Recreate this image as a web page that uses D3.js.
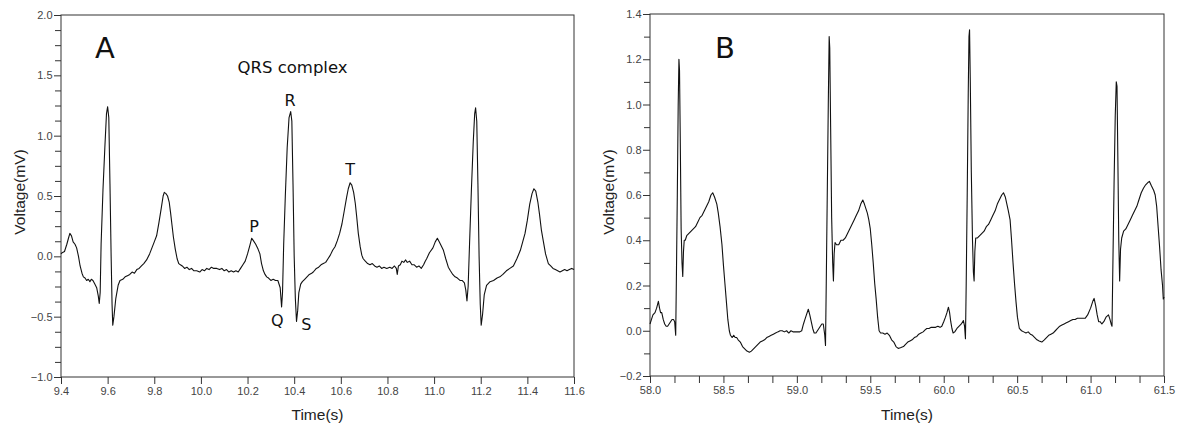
<!DOCTYPE html>
<html>
<head>
<meta charset="utf-8">
<script src="https://cdn.jsdelivr.net/npm/d3@7"></script>
<style>
  html, body { margin: 0; padding: 0; background: #fff; }
  svg { display: block; }
  .tick text { font-family: "Liberation Sans", Arial, sans-serif; font-size: 11px; fill: #444; }
  .tick line { stroke: #333; }
</style>
</head>
<body>
<svg id="chart" width="1200" height="436"></svg>
<script>
// ---------- Panel A data (time s, voltage mV) ----------
const timeA = [9.400,9.405,9.415,9.425,9.432,9.438,9.445,9.452,9.460,9.467,9.475,9.482,9.490,9.496,9.503,9.510,9.517,9.524,9.530,9.537,9.545,9.553,9.560,9.564,9.568,9.572,9.580,9.588,9.595,9.600,9.605,9.610,9.615,9.619,9.622,9.627,9.635,9.645,9.653,9.665,9.675,9.685,9.695,9.705,9.715,9.725,9.735,9.745,9.755,9.767,9.780,9.790,9.800,9.810,9.820,9.830,9.838,9.843,9.850,9.857,9.864,9.870,9.876,9.882,9.890,9.898,9.905,9.912,9.920,9.930,9.940,9.950,9.960,9.970,9.982,9.995,10.005,10.015,10.025,10.035,10.045,10.055,10.068,10.080,10.090,10.100,10.110,10.120,10.130,10.140,10.150,10.160,10.170,10.180,10.190,10.200,10.210,10.218,10.225,10.235,10.245,10.253,10.260,10.268,10.275,10.282,10.290,10.300,10.310,10.320,10.330,10.340,10.346,10.350,10.355,10.362,10.370,10.378,10.385,10.390,10.395,10.400,10.405,10.410,10.415,10.420,10.428,10.435,10.445,10.455,10.465,10.475,10.482,10.495,10.505,10.515,10.525,10.535,10.545,10.555,10.565,10.575,10.585,10.595,10.605,10.615,10.625,10.632,10.640,10.647,10.655,10.662,10.668,10.675,10.683,10.690,10.696,10.705,10.715,10.725,10.735,10.745,10.755,10.765,10.775,10.785,10.797,10.810,10.820,10.830,10.838,10.842,10.847,10.855,10.862,10.870,10.878,10.885,10.895,10.905,10.915,10.925,10.935,10.945,10.955,10.962,10.968,10.980,10.995,11.005,11.014,11.022,11.030,11.040,11.050,11.061,11.070,11.080,11.090,11.100,11.111,11.120,11.130,11.136,11.141,11.146,11.152,11.160,11.168,11.174,11.178,11.183,11.188,11.193,11.198,11.202,11.208,11.215,11.225,11.240,11.255,11.270,11.282,11.295,11.310,11.325,11.340,11.355,11.370,11.380,11.390,11.400,11.410,11.420,11.428,11.436,11.445,11.452,11.460,11.468,11.478,11.490,11.500,11.510,11.520,11.530,11.540,11.550,11.560,11.570,11.580,11.590,11.600];
const voltA = [0.02,0.03,0.04,0.10,0.15,0.19,0.17,0.12,0.10,0.07,0.00,-0.08,-0.14,-0.17,-0.18,-0.20,-0.19,-0.21,-0.19,-0.20,-0.23,-0.26,-0.33,-0.39,-0.30,0.10,0.55,0.90,1.18,1.24,1.15,0.60,0.00,-0.40,-0.57,-0.50,-0.35,-0.24,-0.20,-0.19,-0.17,-0.16,-0.15,-0.13,-0.14,-0.11,-0.10,-0.08,-0.06,-0.03,0.02,0.07,0.12,0.17,0.28,0.40,0.50,0.53,0.52,0.50,0.45,0.36,0.26,0.16,0.06,-0.02,-0.06,-0.07,-0.08,-0.10,-0.09,-0.11,-0.10,-0.12,-0.12,-0.13,-0.11,-0.12,-0.10,-0.11,-0.09,-0.10,-0.10,-0.11,-0.10,-0.12,-0.11,-0.13,-0.12,-0.13,-0.12,-0.13,-0.10,-0.07,-0.04,0.02,0.09,0.15,0.13,0.10,0.06,0.02,-0.06,-0.12,-0.15,-0.17,-0.18,-0.20,-0.19,-0.20,-0.20,-0.26,-0.42,-0.30,0.10,0.50,0.90,1.15,1.20,1.12,0.60,0.00,-0.35,-0.54,-0.45,-0.30,-0.23,-0.21,-0.19,-0.17,-0.15,-0.14,-0.13,-0.10,-0.09,-0.07,-0.06,-0.05,-0.02,0.01,0.05,0.08,0.13,0.19,0.27,0.38,0.49,0.56,0.61,0.59,0.53,0.44,0.33,0.19,0.08,0.01,-0.02,-0.04,-0.06,-0.07,-0.06,-0.08,-0.09,-0.08,-0.10,-0.09,-0.10,-0.09,-0.10,-0.08,-0.10,-0.15,-0.08,-0.07,-0.04,-0.05,-0.03,-0.05,-0.04,-0.07,-0.07,-0.09,-0.08,-0.10,-0.07,-0.04,-0.02,0.03,0.07,0.12,0.15,0.12,0.09,0.05,-0.02,-0.09,-0.12,-0.15,-0.17,-0.18,-0.20,-0.20,-0.22,-0.28,-0.37,-0.25,0.10,0.55,0.95,1.18,1.23,1.12,0.60,0.00,-0.40,-0.57,-0.48,-0.32,-0.24,-0.21,-0.20,-0.18,-0.17,-0.15,-0.12,-0.10,-0.08,-0.02,0.05,0.12,0.19,0.30,0.43,0.52,0.56,0.54,0.45,0.35,0.22,0.13,0.02,-0.06,-0.08,-0.10,-0.11,-0.12,-0.13,-0.12,-0.11,-0.12,-0.11,-0.10,-0.11];

// ---------- Panel B data ----------
const timeB = [58.000,58.010,58.020,58.034,58.045,58.057,58.065,58.072,58.080,58.090,58.100,58.110,58.120,58.130,58.140,58.150,58.160,58.168,58.175,58.180,58.186,58.192,58.197,58.201,58.206,58.212,58.218,58.223,58.228,58.233,58.240,58.250,58.265,58.280,58.295,58.310,58.325,58.340,58.355,58.370,58.385,58.400,58.415,58.427,58.440,58.455,58.465,58.477,58.490,58.500,58.510,58.520,58.530,58.540,58.548,58.560,58.570,58.580,58.590,58.600,58.615,58.630,58.645,58.660,58.677,58.690,58.705,58.720,58.735,58.750,58.765,58.780,58.795,58.810,58.825,58.840,58.855,58.870,58.886,58.900,58.915,58.930,58.945,58.960,58.976,58.990,59.005,59.020,59.033,59.045,59.055,59.065,59.078,59.088,59.098,59.108,59.118,59.130,59.140,59.150,59.160,59.170,59.180,59.190,59.195,59.200,59.207,59.214,59.220,59.224,59.230,59.237,59.244,59.249,59.254,59.260,59.270,59.285,59.300,59.315,59.330,59.345,59.360,59.375,59.390,59.405,59.420,59.435,59.449,59.460,59.470,59.480,59.490,59.500,59.510,59.520,59.530,59.540,59.550,59.560,59.570,59.585,59.600,59.615,59.630,59.645,59.660,59.675,59.690,59.705,59.726,59.740,59.755,59.770,59.785,59.800,59.817,59.830,59.845,59.860,59.875,59.885,59.900,59.915,59.930,59.945,59.960,59.975,59.987,60.000,60.012,60.022,60.032,60.040,60.048,60.056,60.064,60.075,60.090,60.105,60.120,60.134,60.142,60.148,60.153,60.160,60.167,60.172,60.176,60.181,60.188,60.196,60.202,60.207,60.212,60.218,60.230,60.245,60.260,60.275,60.290,60.305,60.320,60.335,60.350,60.365,60.380,60.395,60.407,60.420,60.430,60.440,60.452,60.462,60.472,60.482,60.492,60.502,60.515,60.530,60.545,60.560,60.575,60.590,60.605,60.620,60.635,60.650,60.668,60.685,60.700,60.715,60.730,60.745,60.760,60.775,60.790,60.805,60.820,60.835,60.850,60.865,60.880,60.895,60.910,60.925,60.940,60.955,60.963,60.980,61.000,61.015,61.024,61.035,61.045,61.055,61.065,61.077,61.090,61.105,61.122,61.132,61.140,61.146,61.151,61.160,61.168,61.175,61.180,61.186,61.192,61.198,61.204,61.212,61.225,61.240,61.255,61.270,61.285,61.300,61.315,61.330,61.345,61.360,61.375,61.390,61.401,61.415,61.430,61.440,61.450,61.460,61.470,61.480,61.490,61.495,61.500];
const voltB = [0.03,0.05,0.07,0.08,0.10,0.13,0.10,0.08,0.08,0.05,0.03,0.02,0.02,0.03,0.04,0.05,0.05,0.04,-0.02,0.25,0.60,1.00,1.20,1.15,0.85,0.45,0.30,0.24,0.35,0.40,0.40,0.42,0.43,0.44,0.45,0.46,0.48,0.50,0.51,0.53,0.55,0.57,0.60,0.61,0.59,0.56,0.52,0.46,0.38,0.29,0.21,0.13,0.05,0.00,-0.02,-0.03,-0.02,-0.03,-0.03,-0.04,-0.05,-0.07,-0.08,-0.09,-0.095,-0.09,-0.08,-0.07,-0.06,-0.05,-0.045,-0.04,-0.03,-0.025,-0.02,-0.015,-0.01,-0.005,0.00,0.00,-0.005,0.00,-0.01,0.00,-0.005,-0.005,-0.005,-0.005,0.00,0.03,0.05,0.07,0.095,0.07,0.04,0.01,-0.01,-0.01,0.00,0.01,0.02,0.03,0.03,-0.02,-0.065,0.20,0.60,1.00,1.30,1.25,0.90,0.50,0.30,0.22,0.34,0.39,0.38,0.38,0.40,0.40,0.41,0.43,0.45,0.47,0.49,0.51,0.53,0.56,0.578,0.56,0.54,0.52,0.49,0.45,0.38,0.30,0.21,0.14,0.06,0.00,-0.01,-0.01,-0.015,-0.01,-0.02,-0.04,-0.05,-0.07,-0.078,-0.075,-0.07,-0.06,-0.05,-0.045,-0.04,-0.03,-0.025,-0.015,-0.01,-0.005,0.005,0.01,0.01,0.015,0.015,0.015,0.02,0.015,0.02,0.04,0.06,0.08,0.104,0.08,0.04,0.01,-0.01,-0.005,0.01,0.02,0.03,0.045,0.02,-0.035,0.20,0.60,1.05,1.30,1.33,1.10,0.70,0.40,0.26,0.22,0.35,0.41,0.41,0.42,0.43,0.44,0.46,0.47,0.49,0.51,0.53,0.56,0.58,0.60,0.61,0.59,0.56,0.53,0.49,0.40,0.30,0.21,0.13,0.06,0.01,0.00,-0.005,-0.01,-0.005,-0.015,-0.02,-0.03,-0.04,-0.045,-0.05,-0.04,-0.03,-0.02,-0.015,-0.01,0.00,0.01,0.02,0.025,0.03,0.035,0.04,0.045,0.05,0.05,0.055,0.055,0.055,0.055,0.055,0.07,0.10,0.13,0.143,0.11,0.07,0.04,0.04,0.03,0.04,0.06,0.07,0.05,0.03,0.02,0.25,0.65,0.95,1.10,1.08,0.75,0.40,0.22,0.36,0.41,0.44,0.45,0.47,0.49,0.51,0.53,0.55,0.58,0.61,0.63,0.645,0.655,0.66,0.64,0.62,0.60,0.55,0.46,0.37,0.27,0.20,0.14,0.15];

// ---------- Tick values ----------
const ticksAxMajor = [9.4, 9.6, 9.8, 10.0, 10.2, 10.4, 10.6, 10.8, 11.0, 11.2, 11.4, 11.6];
const ticksAyMajor = [-1.0, -0.5, 0.0, 0.5, 1.0, 1.5, 2.0];
const ticksAyMinor = [-0.875,-0.75,-0.625,-0.375,-0.25,-0.125,0.125,0.25,0.375,0.625,0.75,0.875,1.125,1.25,1.375,1.625,1.75,1.875];
const ticksBxMajor = [58.0, 58.5, 59.0, 59.5, 60.0, 60.5, 61.0, 61.5];
const ticksBxMinor = [58.1667,58.3333,58.6667,58.8333,59.1667,59.3333,59.6667,59.8333,60.1667,60.3333,60.6667,60.8333,61.1667,61.3333];
const ticksByMajor = [-0.2, 0.0, 0.2, 0.4, 0.6, 0.8, 1.0, 1.2, 1.4];
const ticksByMinor = [-0.1, 0.1, 0.3, 0.5, 0.7, 0.9, 1.1, 1.3];

// ---------- Annotations ----------
const annotLabels = ["QRS complex", "R", "T", "P", "Q", "S"];
const annotTimes  = [10.393, 10.382, 10.64, 10.228, 10.328, 10.452];
const annotVolts  = [1.52, 1.25, 0.674, 0.20, -0.577, -0.61];

const svg = d3.select("#chart");
const fmt = d3.format(".1f");
const axisFont = '"Liberation Sans", Arial, sans-serif';
const annotFont = '"DejaVu Sans", "Liberation Sans", sans-serif';

function panel(cfg) {
  const g = svg.append("g");
  const x = d3.scaleLinear().domain(cfg.xDomain).range([cfg.left, cfg.right]);
  const y = d3.scaleLinear().domain(cfg.yDomain).range([cfg.bottom, cfg.top]);

  // minor ticks
  if (cfg.xMinor) {
    g.append("g").attr("transform", `translate(0,${cfg.bottom})`)
      .call(d3.axisBottom(x).tickValues(cfg.xMinor).tickSize(7).tickSizeOuter(0).tickFormat(""))
      .call(s => s.select(".domain").remove());
  }
  g.append("g").attr("transform", `translate(${cfg.left},0)`)
    .call(d3.axisLeft(y).tickValues(cfg.yMinor).tickSize(6).tickSizeOuter(0).tickFormat(""))
    .call(s => s.select(".domain").remove());

  // major ticks
  g.append("g").attr("transform", `translate(0,${cfg.bottom})`)
    .call(d3.axisBottom(x).tickValues(cfg.xMajor).tickSize(7).tickPadding(3).tickSizeOuter(0).tickFormat(fmt))
    .call(s => s.select(".domain").remove());
  g.append("g").attr("transform", `translate(${cfg.left},0)`)
    .call(d3.axisLeft(y).tickValues(cfg.yMajor).tickSize(7).tickPadding(1.5).tickSizeOuter(0).tickFormat(fmt))
    .call(s => s.select(".domain").remove());

  // frame
  g.append("rect")
    .attr("x", cfg.left).attr("y", cfg.top)
    .attr("width", cfg.right - cfg.left).attr("height", cfg.bottom - cfg.top)
    .attr("fill", "none").attr("stroke", "#333").attr("stroke-width", 1);

  // trace
  const pts = cfg.t.map((t, i) => [t, cfg.v[i]]);
  g.append("path")
    .datum(pts)
    .attr("fill", "none")
    .attr("stroke", "#111")
    .attr("stroke-width", 1.1)
    .attr("stroke-linejoin", "round")
    .attr("d", d3.line().x(d => x(d[0])).y(d => y(d[1])));

  // axis titles
  g.append("text")
    .attr("x", (cfg.left + cfg.right) / 2).attr("y", 420)
    .attr("text-anchor", "middle")
    .attr("font-family", axisFont).attr("font-size", 15.5).attr("fill", "#222")
    .text("Time(s)");
  g.append("text")
    .attr("transform", `translate(${cfg.left - 36},192) rotate(-90)`)
    .attr("text-anchor", "middle")
    .attr("font-family", axisFont).attr("font-size", 15.5).attr("fill", "#222")
    .text("Voltage(mV)");

  // panel letter
  g.append("text")
    .attr("x", cfg.letterX).attr("y", 58)
    .attr("text-anchor", "middle")
    .attr("font-family", annotFont).attr("font-size", 29).attr("fill", "#111")
    .text(cfg.letter);
  return {g, x, y};
}

const A = panel({
  xDomain: [9.4, 11.6], yDomain: [-1, 2],
  left: 61, right: 574, top: 15, bottom: 377,
  xMajor: ticksAxMajor, xMinor: null, yMajor: ticksAyMajor, yMinor: ticksAyMinor,
  t: timeA, v: voltA, letter: "A", letterX: 105
});
const B = panel({
  xDomain: [58, 61.5], yDomain: [-0.2, 1.4],
  left: 650, right: 1164, top: 14, bottom: 376,
  xMajor: ticksBxMajor, xMinor: ticksBxMinor, yMajor: ticksByMajor, yMinor: ticksByMinor,
  t: timeB, v: voltB, letter: "B", letterX: 725
});

// annotations on panel A
annotLabels.forEach((lab, i) => {
  A.g.append("text")
    .attr("x", A.x(annotTimes[i])).attr("y", A.y(annotVolts[i]))
    .attr("text-anchor", "middle")
    .attr("font-family", annotFont)
    .attr("font-size", i === 0 ? 16.5 : 16)
    .attr("fill", "#111")
    .text(lab);
});
</script>
</body>
</html>
